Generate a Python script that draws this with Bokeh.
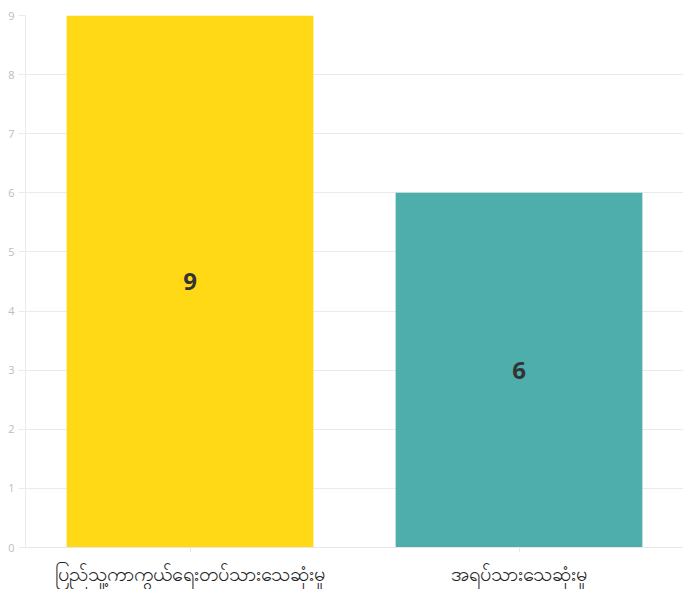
from bokeh.plotting import figure
from bokeh.models import ColumnDataSource, Range1d, FixedTicker
from bokeh.embed import file_html
from bokeh.resources import INLINE
from bokeh.core.properties import value

categories = ["ပြည်သူ့ကာကွယ်ရေးတပ်သားသေဆုံးမှု", "အရပ်သားသေဆုံးမှု"]
counts = [9, 6]
colors = ["#FFD816", "#4DAEAC"]
y_ticks = [0, 1, 2, 3, 4, 5, 6, 7, 8, 9]

src = ColumnDataSource(dict(cat=categories, val=counts, col=colors,
                            mid=[v / 2 for v in counts],
                            lab=[str(v) for v in counts]))

p = figure(x_range=categories, y_range=Range1d(0, 9), width=683, height=589,
           output_backend="svg", toolbar_location=None,
           min_border_left=25, min_border_right=0, min_border_top=15, min_border_bottom=4)
p.vbar(x="cat", top="val", width=0.75, color="col", source=src, line_color=None)
p.text(x="cat", y="mid", text="lab", source=src, text_align="center",
       text_baseline="middle", text_font=value("Open Sans"), text_font_style="bold",
       text_font_size="24px", text_color="#333333")

p.outline_line_color = None
p.xgrid.grid_line_color = None
p.ygrid.grid_line_color = "#ebebeb"
p.ygrid.ticker = FixedTicker(ticks=y_ticks)
p.yaxis.ticker = FixedTicker(ticks=y_ticks)

p.yaxis.axis_line_color = "#ebebeb"
p.yaxis.major_tick_line_color = "#ebebeb"
p.yaxis.major_tick_out = 7
p.yaxis.major_tick_in = 0
p.yaxis.minor_tick_line_color = None
p.yaxis.major_label_text_color = "#bdbdbd"
p.yaxis.major_label_text_font = "Open Sans"
p.yaxis.major_label_text_font_size = "11px"
p.yaxis.major_label_standoff = 4

p.xaxis.axis_line_color = "#e6e6e6"
p.xaxis.major_tick_line_color = "#e6e6e6"
p.xaxis.major_tick_out = 5
p.xaxis.major_tick_in = 0
p.xaxis.major_label_text_color = "#222222"
p.xaxis.major_label_text_font = "Noto Sans"
p.xaxis.major_label_text_font_size = "20px"
p.xaxis.major_label_standoff = 7

open("out.html", "w").write(file_html(p, INLINE))
